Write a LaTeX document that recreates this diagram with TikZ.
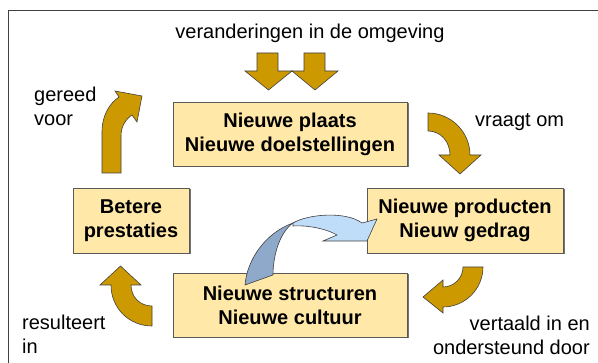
\documentclass[tikz,border=0pt]{standalone}
\usepackage{fontspec}
\setmainfont{Liberation Sans}
\usetikzlibrary{shadows}
\definecolor{gold}{HTML}{CC9900}
\definecolor{boxfill}{HTML}{FFE8A8}
\definecolor{lblue}{HTML}{BFDDF8}
\definecolor{dblue}{HTML}{8EA9CA}
\begin{document}
\begin{tikzpicture}[x=1pt,y=-1pt,
  lbl/.style={font=\fontsize{20}{24}\selectfont, inner sep=0pt},
  blk/.style={draw=black!65, line width=0.8pt, fill=boxfill,
    font=\bfseries\fontsize{20}{24}\selectfont, align=center, inner sep=0pt,
    drop shadow={shadow xshift=1.5pt, shadow yshift=-1.5pt, fill=black!55, opacity=1}},
  garrow/.style={fill=gold, draw=black!75, line width=0.6pt, line join=miter},
  barrow/.style={draw=black!75, line width=0.6pt, line join=miter}]
\useasboundingbox (0,0) rectangle (598,363);
% frame
\draw[line width=1pt, black!75] (8,363) -- (8,11) -- (598,11);
% boxes
\node[blk, minimum width=234pt, minimum height=64pt] (top) at (290,134) {Nieuwe plaats\\Nieuwe doelstellingen};
\node[blk, minimum width=196pt, minimum height=65pt] (right) at (465,220.5) {Nieuwe producten\\Nieuw gedrag};
\node[blk, minimum width=116pt, minimum height=65pt] (left) at (131,220.5) {Betere\\prestaties};
\node[blk, minimum width=234pt, minimum height=64pt] (bottom) at (290,305) {Nieuwe structuren\\Nieuwe cultuur};
% labels
\node[lbl, anchor=base] (env) at (310,39) {veranderingen in de omgeving};
\node[lbl, anchor=base west] (ask) at (475,127) {vraagt om};
\node[lbl, anchor=west, align=left] (ready) at (34,106.7) {gereed\\voor};
\node[lbl, anchor=west, align=left] (res) at (22,334.7) {resulteert\\in};
\node[lbl, anchor=east, align=right] (trans) at (590,335.7) {vertaald in en\\ondersteund door};
% straight down arrows
\draw[garrow] (257,53) -- (278,53) -- (278,71) -- (292,71) -- (268.5,90) -- (245,71) -- (257,71) -- cycle;
\draw[garrow] (304,53) -- (325,53) -- (325,71) -- (338,71) -- (315,90) -- (292,71) -- (304,71) -- cycle;
% curved arrows
\draw[garrow] (102,173) -- (102,132) .. controls (102,115) and (110,103) .. (119,97)
  -- (115,91) -- (142,96) -- (137,122) -- (132,115)
  .. controls (126,119) and (121,126) .. (121,136) -- (121,173) -- cycle;
\draw[garrow] (428,113) -- (428,131) .. controls (441,131) and (450,142) .. (450,155)
  -- (439,155) -- (460,174) -- (481,155) -- (470,155)
  .. controls (470,132) and (451,113) .. (428,113) -- cycle;
\draw[garrow] (463,267) .. controls (463,278) and (454,287) .. (443,287)
  -- (443,280) -- (423,297) -- (443,313) -- (443,307)
  .. controls (465,307) and (483,289) .. (483,267) -- cycle;
\draw[garrow] (111,285) .. controls (111,308) and (129,326) .. (152,326) -- (152,306)
  .. controls (140,306) and (131,297) .. (131,285)
  -- (141,285) -- (120.5,266) -- (100,285) -- cycle;
% blue twisted arrow
\draw[barrow, fill=lblue] (293,223) .. controls (308,214) and (346,211) .. (362,223)
  -- (377,219) -- (367,241) -- (323,241) -- (337,235)
  .. controls (325,228) and (305,225) .. (293,226) -- cycle;
\draw[barrow, fill=dblue] (245,285) .. controls (247,260) and (265,233) .. (293,223)
  .. controls (280,232) and (273,255) .. (273,275) -- cycle;
\end{tikzpicture}
\end{document}
